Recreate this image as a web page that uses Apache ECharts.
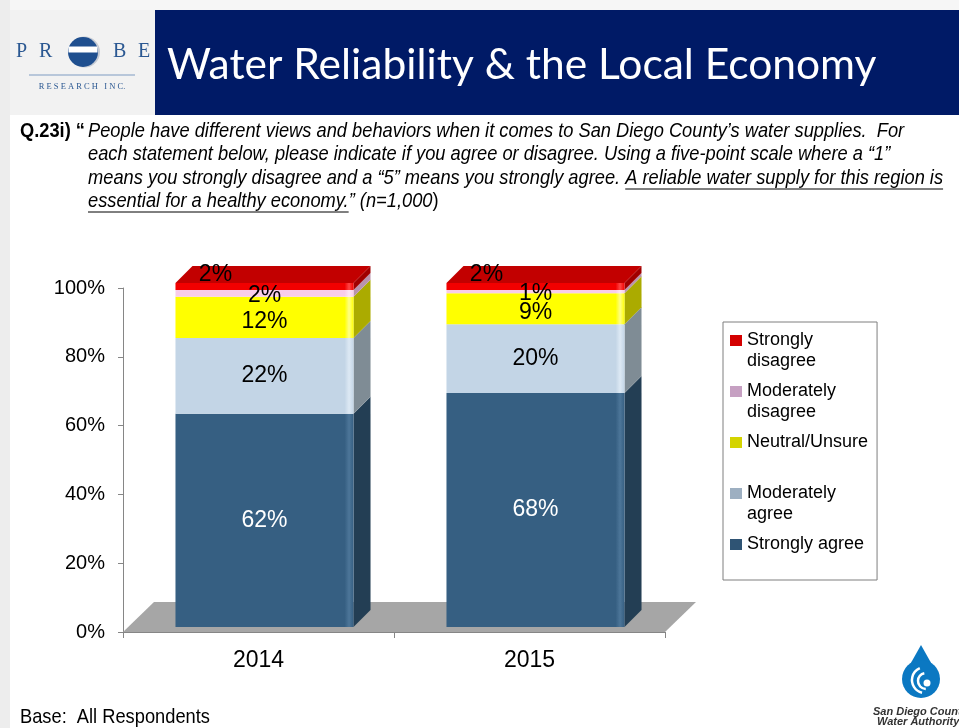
<!DOCTYPE html>
<html>
<head>
<meta charset="utf-8">
<script src="https://cdn.jsdelivr.net/npm/echarts@6/dist/echarts.min.js"></script>
<style>
html, body { margin: 0; padding: 0; background: #fff; }
#main { width: 959px; height: 728px; }
</style>
</head>
<body>
<div id="main"></div>
<script>
// survey results, percent of respondents
var years = ['2014', '2015'];
var stronglyAgree = [62, 68];
var moderatelyAgree = [22, 20];
var neutralUnsure = [12, 9];
var moderatelyDisagree = [2, 1];
var stronglyDisagree = [2, 2];
var seriesNames = ['Strongly agree', 'Moderately agree', 'Neutral/Unsure', 'Moderately disagree', 'Strongly disagree'];
var legendOrder = ['Strongly disagree', 'Moderately disagree', 'Neutral/Unsure', 'Moderately agree', 'Strongly agree'];
var legendText = {
  'Strongly disagree': 'Strongly\ndisagree',
  'Moderately disagree': 'Moderately\ndisagree',
  'Neutral/Unsure': 'Neutral/Unsure\n ',
  'Moderately agree': 'Moderately\nagree',
  'Strongly agree': 'Strongly agree\n '
};

var values = [stronglyAgree, moderatelyAgree, neutralUnsure, moderatelyDisagree, stronglyDisagree];

var faces = [
  { front: '#365F82', hi: '#4D7699', side: '#233E54', label: '#fff', legend: '#2F5474' },
  { front: '#C3D5E6', hi: '#DDE9F4', side: '#7F8C95', label: '#000', legend: '#9DAFC1' },
  { front: '#FFFF00', hi: '#FFFF88', side: '#ABAB00', label: '#000', legend: '#D4D400' },
  { front: '#F9CDEA', hi: '#FDE8F6', side: '#B993AD', label: '#000', legend: '#C6A0C2' },
  { front: '#F20000', hi: '#FF4545', side: '#A00000', top: '#C20000', label: '#000', legend: '#D40000' }
];

var SANS = "'Liberation Sans', Arial, sans-serif";
var NARROW_X = 0.87;   // squeeze Arial into Arial Narrow width
var D = 17;      // bar depth
var LIFT = 5;    // bars stand a bit back on the floor

// stack the segments
var base = years.map(function () { return 0; });
var segData = values.map(function (arr) {
  return arr.map(function (v, i) {
    var lo = base[i];
    base[i] += v;
    return [i, lo, base[i], v];
  });
});

function makeRender(k) {
  return function (params, api) {
    var cat = api.value(0), lo = api.value(1), hi = api.value(2), v = api.value(3);
    var band = api.size([1, 0])[0];
    var w = band * 0.657;
    var pLo = api.coord([cat, lo]);
    var pHi = api.coord([cat, hi]);
    var x = pLo[0] - w / 2 + 6;
    var yb = pLo[1] - LIFT, yt = pHi[1] - LIFT;
    var f = faces[k];
    var kids = [
      {
        type: 'polygon',
        shape: { points: [[x + w, yb], [x + w + D, yb - D], [x + w + D, yt - D], [x + w, yt]] },
        style: { fill: f.side }
      },
      {
        type: 'rect',
        shape: { x: x, y: yt, width: w, height: yb - yt },
        style: {
          fill: {
            type: 'linear', x: 0, y: 0, x2: 1, y2: 0,
            colorStops: [
              { offset: 0, color: f.front },
              { offset: 0.95, color: f.front },
              { offset: 0.975, color: f.hi },
              { offset: 1, color: f.front }
            ]
          }
        }
      }
    ];
    if (k === values.length - 1) {
      kids.push({
        type: 'polygon',
        shape: { points: [[x, yt], [x + D, yt - D], [x + w + D, yt - D], [x + w, yt]] },
        style: { fill: f.top }
      });
    }
    var lx = x + w / 2, ly = (yb + yt) / 2;
    if (k === values.length - 1) { lx = x + 40; ly = yt - 8; }
    if (k === 3) { ly += 2; }
    if (k === 2) { ly += 4; }
    kids.push({
      type: 'text',
      z2: 100,
      style: {
        text: v + '%', x: lx, y: ly, fill: f.label,
        fontSize: 23, fontFamily: SANS, align: 'center', verticalAlign: 'middle'
      }
    });
    return { type: 'group', children: kids };
  };
}

var series = [{
  type: 'custom',
  name: 'floor',
  silent: true,
  clip: false,
  data: [[0, 0]],
  encode: { x: 0, y: 1 },
  renderItem: function (params, api) {
    var c = params.coordSys;
    var b = c.y + c.height;
    return {
      type: 'polygon',
      shape: { points: [[c.x, b], [c.x + c.width, b], [c.x + c.width + 31, b - 30], [c.x + 31, b - 30]] },
      style: { fill: '#A6A6A6' }
    };
  }
}];
seriesNames.forEach(function (name, k) {
  series.push({
    type: 'custom',
    name: name,
    clip: false,
    itemStyle: { color: faces[k].legend },
    data: segData[k],
    encode: { x: 0, y: [1, 2] },
    renderItem: makeRender(k)
  });
});

// text helpers
var ctx = document.createElement('canvas').getContext('2d');
function tw(txt, font) { ctx.font = font; return ctx.measureText(txt).width * NARROW_X; }

var QSIZE = 21;
var qFont = 'italic ' + QSIZE + 'px ' + SANS;
var line3a = 'means you strongly disagree and a \u201c5\u201d means you strongly agree. ';
var line3b = 'A reliable water supply for this region is';
var line4a = 'essential for a healthy economy.';
var line4b = '\u201d (';
var line4c = 'n=1,000';
var qx = 88;

function narrowText(txt, x, y, extra) {
  var s = {
    text: txt, x: 0, y: 0, fill: '#000', fontSize: QSIZE, fontFamily: SANS,
    fontStyle: 'italic', verticalAlign: 'middle', align: 'left'
  };
  for (var key in extra) s[key] = extra[key];
  return { type: 'text', x: x, y: y, scaleX: NARROW_X, style: s };
}

var x3b = qx + tw(line3a, qFont);
var w3b = tw(line3b, qFont);
var w4a = tw(line4a, qFont);
var x4c = qx + w4a + tw(line4b, qFont);
var w4c = tw(line4c, qFont);

var graphics = [
  { type: 'rect', shape: { x: 0, y: 0, width: 959, height: 10 }, style: { fill: '#F6F6F6' }, z: -10 },
  { type: 'rect', shape: { x: 0, y: 0, width: 10, height: 728 }, style: { fill: '#EDEDED' }, z: -10 },
  { type: 'rect', shape: { x: 10, y: 10, width: 145, height: 105 }, style: { fill: '#F2F2F2' }, z: -10 },
  { type: 'rect', shape: { x: 155, y: 10, width: 804, height: 105 }, style: { fill: '#001A66' }, z: -10 },
  {
    type: 'text', style: {
      text: 'Water Reliability & the Local Economy', x: 167, y: 65, fill: '#fff',
      fontSize: 42.5, fontFamily: "Lato, 'Open Sans', sans-serif", verticalAlign: 'middle'
    }
  },
  // probe logo
  { type: 'text', style: { text: 'P', x: 16, y: 52, fill: '#2B5892', fontSize: 20, fontFamily: "'Liberation Serif', serif", verticalAlign: 'middle' } },
  { type: 'text', style: { text: 'R', x: 39, y: 52, fill: '#2B5892', fontSize: 20, fontFamily: "'Liberation Serif', serif", verticalAlign: 'middle' } },
  { type: 'text', style: { text: 'B', x: 113, y: 52, fill: '#2B5892', fontSize: 20, fontFamily: "'Liberation Serif', serif", verticalAlign: 'middle' } },
  { type: 'text', style: { text: 'E', x: 138, y: 52, fill: '#2B5892', fontSize: 20, fontFamily: "'Liberation Serif', serif", verticalAlign: 'middle' } },
  { type: 'circle', shape: { cx: 84.5, cy: 52, r: 15.5 }, style: { fill: '#C5CAD3' } },
  { type: 'circle', shape: { cx: 83, cy: 52, r: 15 }, style: { fill: '#1F4F8F' } },
  { type: 'rect', shape: { x: 68.5, y: 46.5, width: 29, height: 6 }, style: { fill: '#fff' } },
  { type: 'line', shape: { x1: 29, y1: 75, x2: 135, y2: 75 }, style: { stroke: '#7E9CC2', lineWidth: 1 } },
  {
    type: 'text', style: {
      text: 'R E S E A R C H   I N C.', x: 82, y: 87, fill: '#2B5892', fontSize: 8.5,
      fontFamily: "'Liberation Serif', serif", align: 'center', verticalAlign: 'middle'
    }
  },
  // question
  narrowText('Q.23i) \u201c', 20, 131, { fontStyle: 'normal', fontWeight: 'bold' }),
  narrowText('People have different views and behaviors when it comes to San Diego County\u2019s water supplies.  For', qx, 131),
  narrowText('each statement below, please indicate if you agree or disagree. Using a five-point scale where a \u201c1\u201d', qx, 154),
  narrowText(line3a, qx, 178),
  narrowText(line3b, x3b, 178),
  { type: 'line', shape: { x1: x3b, y1: 189, x2: x3b + w3b, y2: 189 }, style: { stroke: '#000', lineWidth: 1 } },
  narrowText(line4a, qx, 201),
  { type: 'line', shape: { x1: qx, y1: 212, x2: qx + w4a, y2: 212 }, style: { stroke: '#000', lineWidth: 1 } },
  narrowText(line4b, qx + w4a, 201),
  narrowText(line4c, x4c, 201),
  narrowText(')', x4c + w4c, 201, { fontStyle: 'normal' }),
  // footer
  narrowText('Base:  All Respondents', 20, 717, { fontStyle: 'normal', fontSize: 21 }),
  // water authority logo
  { type: 'polygon', shape: { points: [[903.5, 676], [921, 645], [938.5, 676]] }, style: { fill: '#0B78C2' } },
  { type: 'circle', shape: { cx: 921, cy: 679, r: 19 }, style: { fill: '#0B78C2' } },
  {
    type: 'arc', shape: { cx: 925, cy: 680, r: 13, startAngle: 1.8, endAngle: 4.3 },
    style: { stroke: '#fff', lineWidth: 2.5, fill: null }
  },
  {
    type: 'arc', shape: { cx: 926, cy: 681, r: 8, startAngle: 1.6, endAngle: 4.5 },
    style: { stroke: '#fff', lineWidth: 2.5, fill: null }
  },
  { type: 'circle', shape: { cx: 927, cy: 683, r: 3.5 }, style: { fill: '#fff' } },
  {
    type: 'text', style: {
      text: 'San Diego County', x: 873, y: 712, fill: '#333', fontSize: 11, fontStyle: 'italic',
      fontWeight: 'bold', fontFamily: SANS, verticalAlign: 'middle'
    }
  },
  {
    type: 'text', style: {
      text: 'Water Authority', x: 877, y: 722, fill: '#333', fontSize: 11, fontStyle: 'italic',
      fontWeight: 'bold', fontFamily: SANS, verticalAlign: 'middle'
    }
  }
];

var ICON = 'path://M0,0h0.01v0.01h-0.01zM0,5h12v11h-12zM0,41.99h0.01v0.01h-0.01z';

var chart = echarts.init(document.getElementById('main'), null, { renderer: 'canvas' });
var option = {
  backgroundColor: '#fff',
  animation: false,
  grid: { left: 123, right: 294, top: 288, bottom: 96, containLabel: false },
  xAxis: {
    type: 'category',
    data: years,
    axisLine: { lineStyle: { color: '#868686' } },
    axisTick: { show: true, length: 6, lineStyle: { color: '#868686' } },
    axisLabel: { fontSize: 23, color: '#000', margin: 17, fontFamily: SANS }
  },
  yAxis: {
    type: 'value',
    min: 0,
    max: 100,
    interval: 20,
    axisLine: { show: true, lineStyle: { color: '#868686' } },
    axisTick: { show: true, length: 5, lineStyle: { color: '#868686' } },
    splitLine: { show: false },
    axisLabel: { formatter: '{value}%', fontSize: 20, color: '#000', margin: 18, fontFamily: SANS }
  },
  legend: {
    orient: 'vertical',
    left: 723,
    top: 322,
    selectedMode: false,
    data: legendOrder.map(function (n) {
      return { name: n, icon: ICON, itemStyle: { color: faces[seriesNames.indexOf(n)].legend } };
    }),
    itemWidth: 12,
    itemHeight: 42,
    itemGap: 9,
    padding: [8, 9, 4, 7],
    borderColor: '#7F7F7F',
    borderWidth: 1,
    formatter: function (n) { return legendText[n]; },
    textStyle: { fontSize: 18, lineHeight: 21, color: '#000', fontFamily: SANS }
  },
  graphic: graphics,
  series: series
};
chart.setOption(option);
</script>
</body>
</html>
